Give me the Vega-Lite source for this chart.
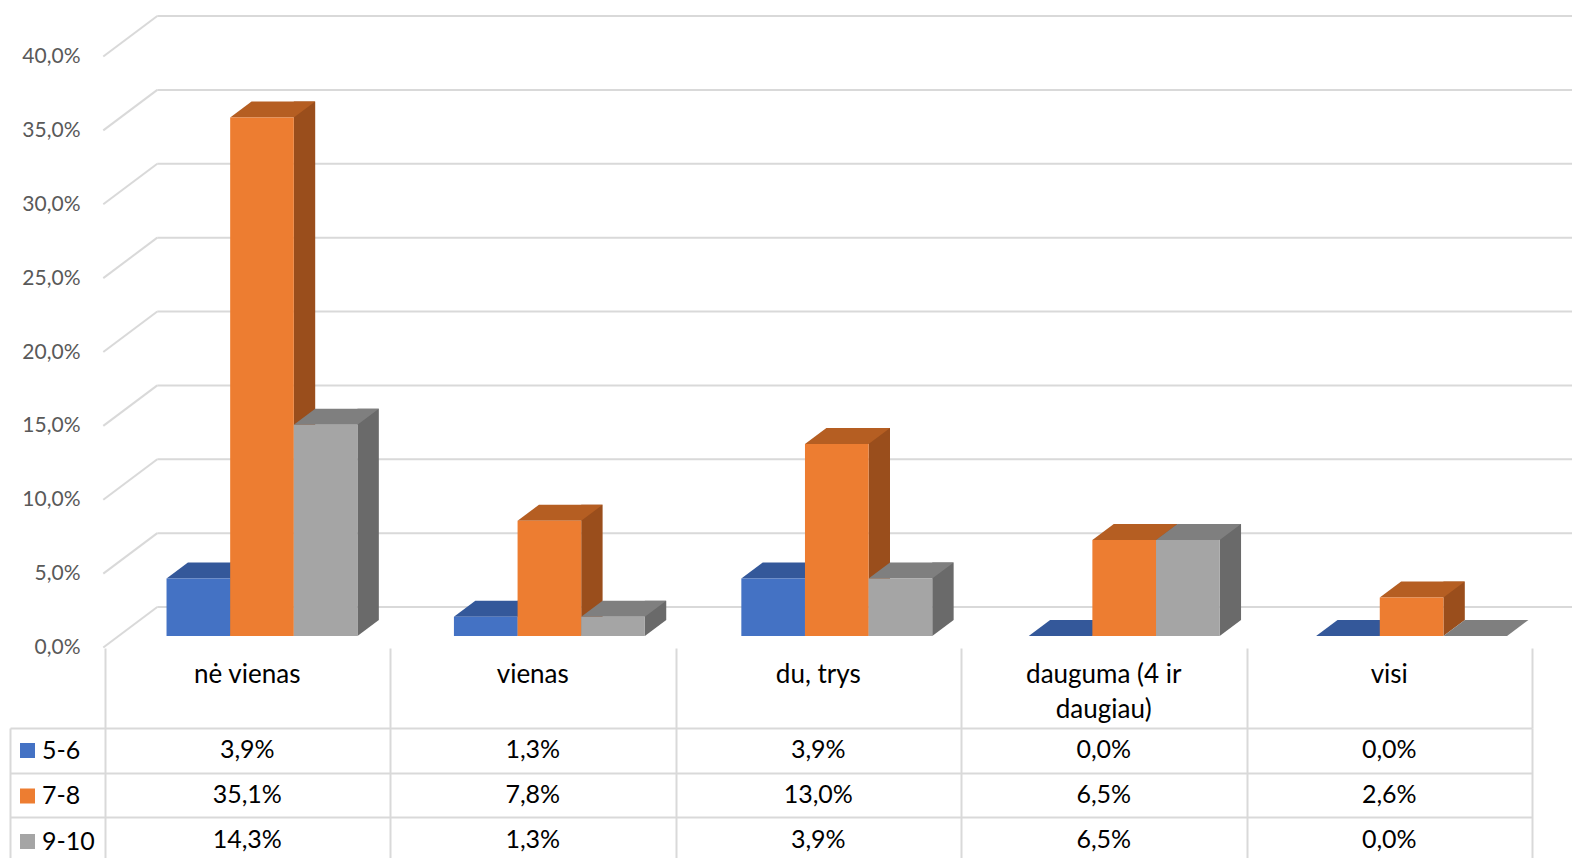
{
  "$schema": "https://vega.github.io/schema/vega-lite/v6.json",
  "padding": {"left": 10, "top": 15, "right": 0, "bottom": 0},
  "bounds": "flush",
  "spacing": 41,
  "config": {
    "view": {"stroke": null},
    "font": "Lato",
    "locale": {"number": {"decimal": ",", "thousands": " ", "grouping": [3], "currency": ["", " €"]}}
  },
  "datasets": {
    "d": [
      {"cat": "nė vienas", "group": "5-6", "value": 0.039},
      {"cat": "nė vienas", "group": "7-8", "value": 0.351},
      {"cat": "nė vienas", "group": "9-10", "value": 0.143},
      {"cat": "vienas", "group": "5-6", "value": 0.013},
      {"cat": "vienas", "group": "7-8", "value": 0.078},
      {"cat": "vienas", "group": "9-10", "value": 0.013},
      {"cat": "du, trys", "group": "5-6", "value": 0.039},
      {"cat": "du, trys", "group": "7-8", "value": 0.130},
      {"cat": "du, trys", "group": "9-10", "value": 0.039},
      {"cat": "dauguma (4 ir daugiau)", "group": "5-6", "value": 0.0},
      {"cat": "dauguma (4 ir daugiau)", "group": "7-8", "value": 0.065},
      {"cat": "dauguma (4 ir daugiau)", "group": "9-10", "value": 0.065},
      {"cat": "visi", "group": "5-6", "value": 0.0},
      {"cat": "visi", "group": "7-8", "value": 0.026},
      {"cat": "visi", "group": "9-10", "value": 0.0}
    ],
    "ticks": [{"v": 0}, {"v": 0.05}, {"v": 0.1}, {"v": 0.15}, {"v": 0.2}, {"v": 0.25}, {"v": 0.3}, {"v": 0.35}, {"v": 0.4}]
  },
  "resolve": {"scale": {"x": "independent", "y": "independent"}},
  "vconcat": [
    {
      "width": 1558,
      "height": 591,
      "resolve": {"scale": {"fill": "independent", "xOffset": "independent"}},
      "layer": [
        {
          "data": {"name": "ticks"},
          "mark": {"type": "rule", "color": "#d9d9d9", "strokeWidth": 2, "xOffset": 39, "x2Offset": 17},
          "encoding": {
            "x": {"datum": "nė vienas", "type": "nominal", "bandPosition": 0, "scale": {"domain": ["nė vienas", "vienas", "du, trys", "dauguma (4 ir daugiau)", "visi"], "paddingInner": 0, "paddingOuter": 0.2105, "align": 0.895, "round": false}, "axis": null},
            "x2": {"datum": "visi", "bandPosition": 1},
            "y": {"field": "v", "type": "quantitative", "scale": {"domain": [0, 0.4], "nice": false}, "axis": {"orient": "left", "offset": -70, "labelPadding": 0, "ticks": false, "domain": false, "grid": false, "labelOffset": 40.5, "labelFontSize": 21, "labelColor": "#595959", "format": ".1%", "values": [0, 0.05, 0.1, 0.15, 0.2, 0.25, 0.3, 0.35, 0.4], "title": null, "labelAlign": "right"}}
          }
        },
        {
          "data": {"name": "ticks"},
          "mark": {"type": "rule", "color": "#d9d9d9", "strokeWidth": 2, "xOffset": -15, "x2Offset": 39, "yOffset": 40.5, "y2Offset": 0},
          "encoding": {
            "x": {"datum": "nė vienas", "type": "nominal", "bandPosition": 0},
            "x2": {"datum": "nė vienas", "bandPosition": 0},
            "y": {"field": "v", "type": "quantitative"},
            "y2": {"field": "v"}
          }
        },
        {
          "data": {"name": "d"},
          "transform": [{"filter": "datum.value > 0"}],
          "mark": {"type": "bar", "width": 21.4, "yOffset": 13, "y2Offset": 13},
          "encoding": {
            "x": {"field": "cat", "type": "nominal"},
            "xOffset": {"field": "group", "type": "nominal", "scale": {"type": "band", "domain": ["5-6", "7-8", "9-10"], "paddingInner": 0, "paddingOuter": 0.758, "align": 0.9406, "round": false}},
            "y": {"field": "value", "type": "quantitative"},
            "y2": {"datum": 0},
            "fill": {"field": "group", "type": "nominal", "scale": {"domain": ["5-6", "7-8", "9-10"], "range": ["#2A4E8C", "#9A4E1C", "#6A6A6A"]}, "legend": null}
          }
        },
        {
          "data": {"name": "d"},
          "transform": [{"filter": "datum.value > 0"}],
          "mark": {"type": "point", "filled": true, "opacity": 1, "strokeWidth": 0, "size": 10000, "yOffset": 29, "shape": "M 0.6364 0 L 1.0644 -0.32 L 0.6364 -0.32 Z"},
          "encoding": {
            "x": {"field": "cat", "type": "nominal"},
            "xOffset": {"field": "group", "type": "nominal", "scale": {"type": "band", "domain": ["5-6", "7-8", "9-10"], "paddingInner": 0, "paddingOuter": 0.758, "round": false}},
            "y": {"datum": 0},
            "fill": {"field": "group", "type": "nominal", "scale": {"domain": ["5-6", "7-8", "9-10"], "range": ["#2A4E8C", "#9A4E1C", "#6A6A6A"]}, "legend": null}
          }
        },
        {
          "data": {"name": "d"},
          "mark": {"type": "point", "filled": true, "opacity": 1, "strokeWidth": 0, "size": 10000, "yOffset": 29, "shape": "M -0.6364 0 L 0.6364 0 L 1.0644 -0.32 L -0.2084 -0.32 Z"},
          "encoding": {
            "x": {"field": "cat", "type": "nominal"},
            "xOffset": {"field": "group", "type": "nominal", "scale": {"type": "band", "domain": ["5-6", "7-8", "9-10"], "paddingInner": 0, "paddingOuter": 0.758, "round": false}},
            "y": {"field": "value", "type": "quantitative"},
            "fill": {"field": "group", "type": "nominal", "scale": {"domain": ["5-6", "7-8", "9-10"], "range": ["#34589A", "#B55E22", "#7F7F7F"]}, "legend": null}
          }
        },
        {
          "data": {"name": "d"},
          "mark": {"type": "bar", "yOffset": 29, "y2Offset": 29},
          "encoding": {
            "x": {"field": "cat", "type": "nominal"},
            "xOffset": {"field": "group", "type": "nominal", "scale": {"type": "band", "domain": ["5-6", "7-8", "9-10"], "paddingInner": 0, "paddingOuter": 0.758, "round": false}},
            "y": {"field": "value", "type": "quantitative"},
            "y2": {"datum": 0},
            "color": {"field": "group", "type": "nominal", "scale": {"domain": ["5-6", "7-8", "9-10"], "range": ["#4472C4", "#ED7D31", "#A5A5A5"]}, "legend": {"orient": "none", "legendX": 5, "legendY": 722, "title": null, "symbolType": "square", "symbolSize": 225, "symbolStrokeWidth": 0, "labelFontSize": 25, "labelColor": "#000000", "rowPadding": 19.5, "labelOffset": 2, "padding": 0, "labelFont": "Lato"}}
          }
        }
      ]
    },
    {
      "spacing": 0,
      "bounds": "flush",
      "resolve": {"scale": {"x": "independent", "y": "independent"}},
      "vconcat": [
        {
          "width": 1522,
          "height": 80,
          "data": {"name": "d"},
          "transform": [
            {"filter": "datum.group === '5-6'"},
            {"calculate": "split(replace(datum.cat, ' ir ', ' ir|'), '|')", "as": "lbl"}
          ],
          "mark": {"type": "text", "baseline": "top", "dy": -26, "fontSize": 26, "color": "#000000", "lineHeight": 35},
          "encoding": {
            "x": {"field": "cat", "type": "nominal", "scale": {"domain": ["nė vienas", "vienas", "du, trys", "dauguma (4 ir daugiau)", "visi"], "paddingInner": 0, "paddingOuter": 0.1655, "align": 1, "round": false}, "axis": {"labels": false, "ticks": false, "domain": false, "grid": true, "tickBand": "extent", "gridColor": "#d9d9d9", "gridWidth": 2, "title": null}},
            "text": {"field": "lbl"}
          }
        },
        {
          "width": 1522,
          "height": 134,
          "data": {"name": "d"},
          "mark": {"type": "text", "fontSize": 25, "color": "#000000"},
          "encoding": {
            "x": {"field": "cat", "type": "nominal", "scale": {"domain": ["nė vienas", "vienas", "du, trys", "dauguma (4 ir daugiau)", "visi"], "paddingInner": 0, "paddingOuter": 0.1655, "align": 1, "round": false}, "axis": {"labels": false, "ticks": false, "domain": false, "grid": true, "tickBand": "extent", "gridColor": "#d9d9d9", "gridWidth": 2, "title": null}},
            "y": {"field": "group", "type": "nominal", "scale": {"domain": ["5-6", "7-8", "9-10"], "paddingInner": 0, "paddingOuter": 0, "round": false}, "axis": {"labels": false, "ticks": false, "domain": true, "domainColor": "#d9d9d9", "domainWidth": 2, "grid": true, "tickBand": "extent", "gridColor": "#d9d9d9", "gridWidth": 2, "title": null}},
            "text": {"field": "value", "type": "quantitative", "format": ".1%"}
          }
        }
      ]
    }
  ]
}
